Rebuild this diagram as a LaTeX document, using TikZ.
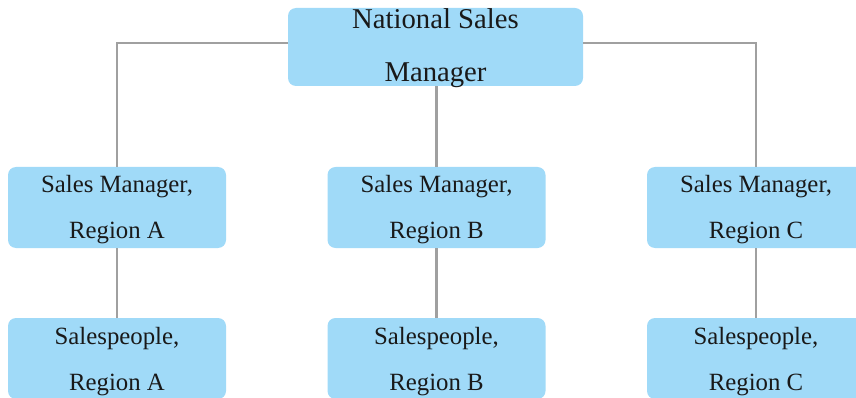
\documentclass[tikz,border=0pt]{standalone}
\usepackage{fontspec}
\setmainfont{Liberation Serif}
\begin{document}
\begin{tikzpicture}[x=1pt,y=-1pt,
  box/.style={draw=none,fill=boxblue,rounded corners=8pt,minimum width=218pt,minimum height=81pt,inner sep=0pt},
  topbox/.style={box,minimum width=295pt,minimum height=78pt},
  txt/.style={anchor=base,inner sep=0pt,text=black!90,font=\fontsize{24.8}{28}\selectfont},
  toptxt/.style={anchor=base,inner sep=0pt,text=black!90,font=\fontsize{28.7}{32}\selectfont},
  link/.style={draw=linegray,line width=2.5pt}]
\definecolor{boxblue}{RGB}{160,218,248}
\definecolor{linegray}{RGB}{160,160,160}
\useasboundingbox (0,0) rectangle (856,398);
% boxes
\node[topbox] (top) at (435.5,47) {};
\node[box] (mA) at (117,207.5) {};
\node[box] (mB) at (436.5,207.5) {};
\node[box] (mC) at (756,207.5) {};
\node[box] (sA) at (117,358.5) {};
\node[box] (sB) at (436.5,358.5) {};
\node[box] (sC) at (756,358.5) {};
% connectors
\draw[link] ([yshift=4pt]top.west) -| (mA.north);
\draw[link] ([yshift=4pt]top.east) -| (mC.north);
\draw[link] (top.south -| mB.north) -- (mB.north);
\draw[link] (mA.south) -- (sA.north);
\draw[link] (mB.south) -- (sB.north);
\draw[link] (mC.south) -- (sC.north);
% texts
\node[toptxt] (t1) at (435.5,29) {National Sales};
\node[toptxt] (t2) at (435.5,82) {Manager};
\node[txt] (a1) at (117,193) {Sales Manager,};
\node[txt] (a2) at (117,238) {Region A};
\node[txt] (b1) at (436.5,193) {Sales Manager,};
\node[txt] (b2) at (436.5,238) {Region B};
\node[txt] (c1) at (756,193) {Sales Manager,};
\node[txt] (c2) at (756,238) {Region C};
\node[txt] (a3) at (117,344) {Salespeople,};
\node[txt] (a4) at (117,390.5) {Region A};
\node[txt] (b3) at (436.5,344) {Salespeople,};
\node[txt] (b4) at (436.5,390.5) {Region B};
\node[txt] (c3) at (756,344) {Salespeople,};
\node[txt] (c4) at (756,390.5) {Region C};
\end{tikzpicture}
\end{document}
